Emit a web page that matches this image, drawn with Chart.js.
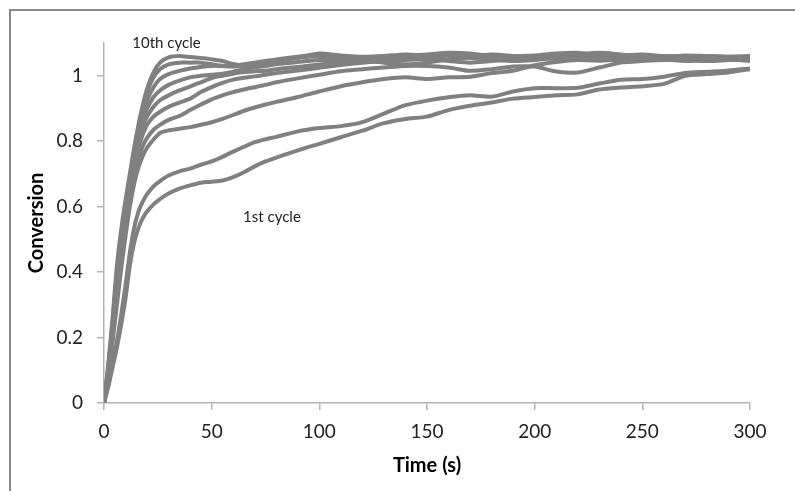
<!DOCTYPE html>
<html>
<head>
<meta charset="utf-8">
<script src="https://cdn.jsdelivr.net/npm/chart.js@4/dist/chart.umd.min.js"></script>
<style>
  body { margin: 0; background: #fff; }
  #frame { position: absolute; left: 9px; top: 9px; width: 900px; height: 600px; border-left: 2px solid #8a8a8a; border-top: 2px solid #8a8a8a; }
  #myChart { position: absolute; left: 0; top: 0; }
</style>
</head>
<body>
<div id="frame"></div>
<canvas id="myChart" width="795" height="491"></canvas>
<script>
'use strict';

// time points (s)
let times = [0, 2, 4, 6, 8, 10, 12, 14, 16, 18, 20, 23, 26, 30, 35, 40, 45, 50, 55, 60, 65, 70, 75, 80, 90, 100,
  110, 120, 130, 140, 150, 160, 170, 180, 190, 200, 210, 220, 230, 240, 250, 260, 270, 280, 290, 300];

let cycle1 = [0, 0.05, 0.11, 0.17, 0.24, 0.32, 0.42, 0.49, 0.535, 0.565, 0.585,
  0.607, 0.623, 0.64, 0.655, 0.665, 0.673, 0.676, 0.68, 0.69,
  0.705, 0.723, 0.738, 0.75, 0.772, 0.792,
  0.812, 0.832, 0.855, 0.868, 0.875, 0.895, 0.908, 0.918, 0.93, 0.935, 0.94, 0.943, 0.958, 0.964, 0.968, 0.975, 1.0, 1.005, 1.01, 1.02];
let cycle2 = [0, 0.055, 0.12, 0.19, 0.27, 0.36, 0.46, 0.535, 0.585, 0.615, 0.638,
  0.662, 0.678, 0.695, 0.708, 0.716, 0.728, 0.738, 0.752, 0.768,
  0.783, 0.797, 0.806, 0.813, 0.83, 0.84,
  0.846, 0.858, 0.884, 0.91, 0.924, 0.934, 0.94, 0.936, 0.952, 0.962, 0.962, 0.963, 0.976, 0.988, 0.99, 0.997, 1.008, 1.012, 1.016, 1.022];
let cycle3 = [0, 0.08, 0.19, 0.3, 0.41, 0.51, 0.6, 0.67, 0.72, 0.755, 0.78,
  0.805, 0.825, 0.833, 0.838, 0.843, 0.85, 0.858, 0.868, 0.88,
  0.893, 0.903, 0.912, 0.92, 0.935, 0.952,
  0.968, 0.98, 0.99, 0.995, 0.99, 0.995, 0.997, 1.008, 1.015, 1.032, 1.042, 1.048, 1.046, 1.05, 1.052, 1.048, 1.05, 1.045, 1.048, 1.05];
let cycle4 = [0, 0.09, 0.2, 0.32, 0.44, 0.54, 0.63, 0.7, 0.75, 0.785, 0.81,
  0.835, 0.85, 0.865, 0.877, 0.895, 0.912, 0.928, 0.94, 0.95,
  0.958, 0.965, 0.972, 0.98, 0.992, 1.003,
  1.014, 1.02, 1.025, 1.03, 1.03, 1.025, 1.015, 1.02, 1.028, 1.028, 1.013, 1.01, 1.025, 1.04, 1.045, 1.048, 1.05, 1.045, 1.05, 1.048];
let cycle5 = [0, 0.09, 0.21, 0.34, 0.46, 0.56, 0.65, 0.72, 0.78, 0.82, 0.85,
  0.875, 0.89, 0.905, 0.918, 0.93, 0.95, 0.965, 0.978, 0.988,
  0.994, 0.998, 1.003, 1.008, 1.016, 1.024,
  1.033, 1.04, 1.045, 1.048, 1.05, 1.045, 1.04, 1.045, 1.05, 1.055, 1.052, 1.048, 1.05, 1.055, 1.05, 1.052, 1.055, 1.05, 1.055, 1.055];
let cycle6 = [0, 0.1, 0.22, 0.35, 0.47, 0.57, 0.66, 0.735, 0.8, 0.845, 0.875,
  0.905, 0.925, 0.94, 0.955, 0.967, 0.98, 0.993, 1.0, 1.006,
  1.011, 1.014, 1.015, 1.02, 1.027, 1.034,
  1.04, 1.045, 1.04, 1.035, 1.04, 1.05, 1.055, 1.05, 1.045, 1.048, 1.055, 1.06, 1.052, 1.045, 1.048, 1.05, 1.045, 1.048, 1.05, 1.045];
let cycle7 = [0, 0.1, 0.23, 0.37, 0.49, 0.59, 0.67, 0.75, 0.815, 0.865, 0.9,
  0.935, 0.955, 0.972, 0.985, 0.995, 1.0, 1.003, 1.006, 1.012,
  1.02, 1.026, 1.03, 1.035, 1.042, 1.048,
  1.048, 1.052, 1.055, 1.058, 1.06, 1.062, 1.055, 1.05, 1.052, 1.058, 1.06, 1.055, 1.05, 1.052, 1.055, 1.052, 1.05, 1.052, 1.055, 1.055];
let cycle8 = [0, 0.11, 0.24, 0.38, 0.5, 0.6, 0.68, 0.76, 0.83, 0.88, 0.925,
  0.965, 0.99, 1.005, 1.015, 1.022, 1.027, 1.03, 1.03, 1.03,
  1.035, 1.04, 1.045, 1.05, 1.058, 1.065,
  1.06, 1.055, 1.06, 1.065, 1.062, 1.068, 1.065, 1.058, 1.06, 1.062, 1.068, 1.07, 1.062, 1.06, 1.058, 1.055, 1.058, 1.055, 1.052, 1.05];
let cycle9 = [0, 0.11, 0.25, 0.4, 0.51, 0.61, 0.69, 0.77, 0.84, 0.9, 0.95,
  0.995, 1.02, 1.035, 1.04, 1.04, 1.04, 1.035, 1.03, 1.028,
  1.032, 1.038, 1.042, 1.048, 1.055, 1.06,
  1.058, 1.05, 1.055, 1.06, 1.055, 1.05, 1.06, 1.065, 1.06, 1.055, 1.058, 1.065, 1.07, 1.065, 1.06, 1.058, 1.062, 1.06, 1.058, 1.06];
let cycle10 = [0, 0.12, 0.26, 0.42, 0.53, 0.62, 0.7, 0.78, 0.85, 0.91, 0.96,
  1.01, 1.04, 1.056, 1.06, 1.057, 1.054, 1.05, 1.045, 1.036,
  1.03, 1.033, 1.038, 1.045, 1.055, 1.068,
  1.062, 1.058, 1.06, 1.062, 1.065, 1.07, 1.068, 1.06, 1.055, 1.058, 1.065, 1.06, 1.058, 1.062, 1.065, 1.06, 1.058, 1.06, 1.058, 1.058];

let cycles = [cycle1, cycle2, cycle3, cycle4, cycle5, cycle6, cycle7, cycle8, cycle9, cycle10];

let xTicks = [0, 50, 100, 150, 200, 250, 300];
let yTicks = [0, 0.2, 0.4, 0.6, 0.8, 1];

// text notes in data units
let notes = [
  { text: '10th cycle', x: 29, y: 1.1 },
  { text: '1st cycle', x: 78, y: 0.567 }
];

const lineGray = '#808080';
const axisGray = '#b4b4b4';
const tickFont = { family: 'Lato', size: 19 };
const titleFont = { family: 'Lato', size: 20, weight: 'bold' };

let datasets = [];
for ( let i = 0; i < cycles.length; i++ ) {
  let pts = [];
  for ( let j = 0; j < times.length; j++ ) {
    pts.push( { x: times[j], y: cycles[i][j] } );
  }
  datasets.push( {
    label: 'cycle ' + ( i + 1 ),
    data: pts,
    borderColor: lineGray,
    borderWidth: 4,
    pointRadius: 0,
    tension: 0.25,
    fill: false
  } );
}

const notePlugin = {
  id: 'notes',
  afterDatasetsDraw( chart ) {
    const ctx = chart.ctx;
    const xs = chart.scales.x;
    const ys = chart.scales.y;
    ctx.save();
    ctx.font = '15px Lato';
    ctx.fillStyle = '#222';
    ctx.textAlign = 'center';
    ctx.textBaseline = 'middle';
    for ( let i = 0; i < notes.length; i++ ) {
      ctx.fillText( notes[i].text, xs.getPixelForValue( notes[i].x ), ys.getPixelForValue( notes[i].y ) );
    }
    ctx.restore();
  }
};

function keepTicks( list ) {
  return function( axis ) {
    axis.ticks = list.map( v => ( { value: v } ) );
  };
}

function plainLabel( value ) {
  return String( +value.toFixed( 2 ) );
}

let ctx = document.getElementById( 'myChart' ).getContext( '2d' );
// eslint-disable-next-line no-unused-vars
let myChart = new Chart( ctx, {
  type: 'line',
  data: { datasets: datasets },
  plugins: [notePlugin],
  options: {
    responsive: false,
    animation: false,
    devicePixelRatio: 1,
    layout: { padding: { left: 0, right: 45, top: 43, bottom: 0 } },
    plugins: {
      legend: { display: false },
      tooltip: { enabled: false }
    },
    scales: {
      x: {
        type: 'linear',
        min: 0,
        max: 300,
        afterBuildTicks: keepTicks( xTicks ),
        afterFit: function( s ) { s.height = 88; },
        ticks: { color: '#222', font: tickFont, padding: 10, maxRotation: 0, callback: plainLabel },
        grid: { drawOnChartArea: false, tickLength: 7, color: axisGray, lineWidth: 1.5 },
        border: { color: axisGray, width: 1.5 },
        title: { display: true, text: 'Time (s)', color: '#000', font: titleFont, padding: { top: 0, bottom: 13 } }
      },
      y: {
        min: 0,
        max: 1.1,
        afterBuildTicks: keepTicks( yTicks ),
        afterFit: function( s ) { s.width = 104; },
        ticks: { color: '#222', font: tickFont, padding: 14, callback: plainLabel },
        grid: { drawOnChartArea: false, tickLength: 7, color: axisGray, lineWidth: 1.5 },
        border: { color: axisGray, width: 1.5 },
        title: { display: true, text: 'Conversion', color: '#000', font: titleFont, padding: { top: 25, bottom: 0 } }
      }
    }
  }
} );
</script>
</body>
</html>
